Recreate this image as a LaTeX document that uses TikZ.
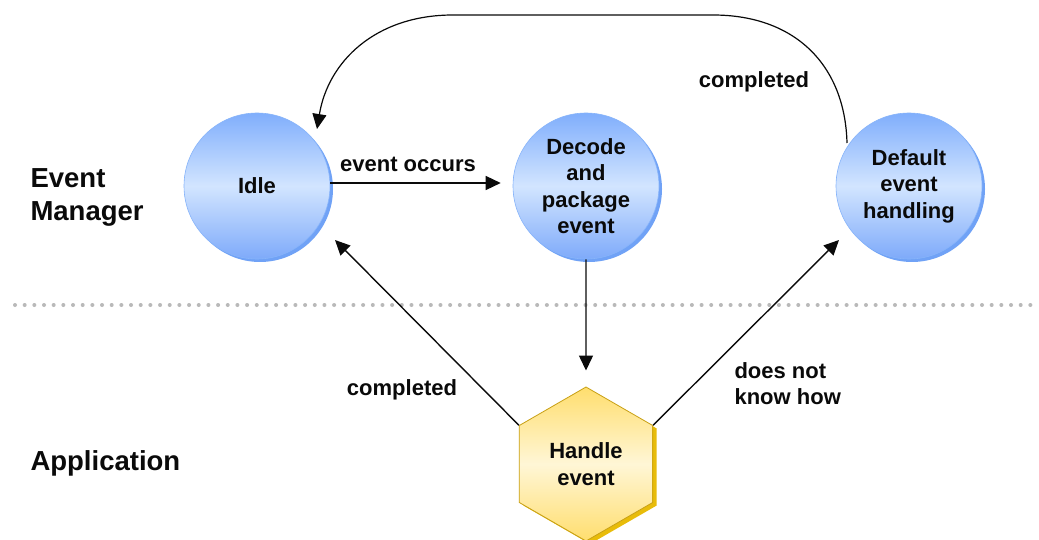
\documentclass[tikz,border=0pt]{standalone}
\usepackage{fontspec}
\setmainfont{Liberation Sans}
\usetikzlibrary{arrows.meta,shapes.geometric,shadows}

\definecolor{bluetop}{RGB}{128,174,252}
\definecolor{bluemid}{RGB}{210,229,255}
\definecolor{bluebot}{RGB}{126,170,250}
\definecolor{blueedge}{RGB}{135,180,250}
\definecolor{blueshadow}{RGB}{112,162,246}
\definecolor{goldtop}{RGB}{255,222,110}
\definecolor{goldmid}{RGB}{255,246,214}
\definecolor{goldbot}{RGB}{255,222,110}
\definecolor{goldedge}{RGB}{200,160,20}
\definecolor{goldshadow}{RGB}{232,188,10}
\definecolor{dotgray}{RGB}{185,185,185}
\definecolor{ink}{RGB}{10,10,10}

\tikzset{
  state/.style={circle, minimum size=146pt, inner sep=0pt, draw=blueedge, line width=0.6pt,
    top color=bluetop, bottom color=bluebot, middle color=bluemid, align=center,
    font=\bfseries\fontsize{22}{26.5}\selectfont, text=ink,
    general shadow={fill=blueshadow, shadow xshift=3pt, shadow yshift=-3pt}},
  task/.style={regular polygon, regular polygon sides=6, shape border rotate=30,
    minimum size=154pt, inner sep=0pt, draw=goldedge, line width=0.8pt,
    top color=goldtop, bottom color=goldbot, middle color=goldmid, align=center,
    font=\bfseries\fontsize{22}{27}\selectfont, text=ink,
    general shadow={fill=goldshadow, shadow xshift=4pt, shadow yshift=-3pt}},
  lane/.style={anchor=west, align=left, font=\bfseries\fontsize{27.5}{33}\selectfont, text=ink},
  edgelabel/.style={font=\bfseries\fontsize{22}{26}\selectfont, text=ink},
  arr/.style={-{Triangle[length=15pt,width=14pt]}, line width=1.4pt, draw=ink},
  separator/.style={draw=dotgray, line width=4pt, line cap=round, dash pattern=on 0pt off 9.67pt},
}

\begin{document}
\begin{tikzpicture}[x=1pt, y=-1pt]
  \useasboundingbox[fill=white] (0,0) rectangle (1039,540);

  % lane separator
  \draw[separator] (15,305) -- (1036,305);

  % lane titles
  \node[lane] (lblEM) at (27,197) {Event\\Manager};
  \node[lane] (lblApp) at (27,463) {Application};

  % states
  \node[state] (idle) at (257,186) {Idle};
  \node[state] (decode) at (586,186) {Decode\\and\\package\\event};
  \node[state] (default) at (909,186) {Default\\event\\handling};
  \node[task] (handle) at (586,464) {Handle\\event};

  % free arrow ends
  \coordinate (idleIn) at (335,240);
  \coordinate (defaultIn) at (839,240);
  \coordinate (idleTop) at (317,129);
  \coordinate (defaultTop) at (847,143);

  % transitions
  \draw[arr, shorten >=12pt] ([yshift=3pt]idle.east) -- ([yshift=3pt]decode.west);
  \draw[arr, shorten >=16pt] (decode.south) -- (handle.90);
  \draw[arr] (handle.150) -- (idleIn);
  \draw[arr] (handle.30) -- (defaultIn);
  \draw[arr, line width=1.2pt] (defaultTop) .. controls (845,65) and (795,15) .. (713,15)
     -- (453,15) .. controls (375,15) and (328,62) .. (idleTop);

  % transition labels
  \node[edgelabel] (lblOccurs) at (408,164) {event occurs};
  \node[edgelabel] (lblDone1) at (754,82) {completed};
  \node[edgelabel] (lblDone2) at (402,390) {completed};
  \node[edgelabel, anchor=west, align=left] (lblUnknown) at (731,384) {does not\\know how};
\end{tikzpicture}
\end{document}
